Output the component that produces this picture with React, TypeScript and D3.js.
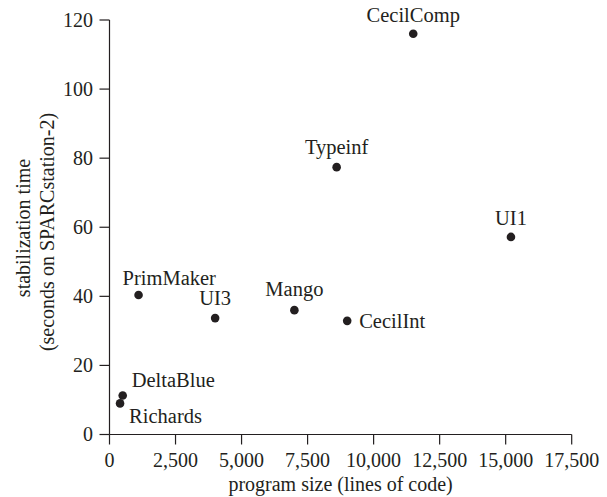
import React from "react";
import * as d3 from "d3";

const programs = ["CecilComp", "Typeinf", "UI1", "PrimMaker", "UI3", "Mango", "CecilInt", "DeltaBlue", "Richards"];
const linesOfCode = [11500, 8600, 15200, 1100, 4000, 7000, 9000, 500, 400];
const stabilizationTime = [116, 77.4, 57.2, 40.4, 33.7, 36, 32.9, 11.3, 9.0];
const xTicks = [0, 2500, 5000, 7500, 10000, 12500, 15000, 17500];
const yTicks = [0, 20, 40, 60, 80, 100, 120];

// label placement (layout, not data)
const labelLayout: Record<string, { anchor: string; dx: number; dy: number }> = {
  CecilComp: { anchor: "middle", dx: 0, dy: -12 },
  Typeinf: { anchor: "middle", dx: 0, dy: -13 },
  UI1: { anchor: "middle", dx: 0, dy: -12 },
  PrimMaker: { anchor: "start", dx: -16, dy: -10 },
  UI3: { anchor: "middle", dx: 0, dy: -13 },
  Mango: { anchor: "middle", dx: 0, dy: -14 },
  CecilInt: { anchor: "start", dx: 12, dy: 0 },
  DeltaBlue: { anchor: "start", dx: 9, dy: -8 },
  Richards: { anchor: "start", dx: 9, dy: 20 },
};

const W = 607;
const H = 497;
const ink = "#231f20";
const font = "'Liberation Serif', 'Times New Roman', serif";

export default function App() {
  const x = d3.scaleLinear().domain([0, 17500]).range([109.5, 571.7]);
  const y = d3.scaleLinear().domain([0, 120]).range([434.5, 20]);
  const fmt = d3.format(",");
  const tick = 10;

  return (
    <svg width={W} height={H} style={{ position: "absolute", left: 0, top: 0, background: "#fff" }} fontFamily={font} fill={ink}>
      <line x1={x(0)} x2={x(17500)} y1={y(0)} y2={y(0)} stroke={ink} strokeWidth={1.2} />
      <line x1={x(0)} x2={x(0)} y1={y(0)} y2={y(120)} stroke={ink} strokeWidth={1.2} />
      {xTicks.map((t) => (
        <g key={"x" + t}>
          <line x1={x(t)} x2={x(t)} y1={y(0)} y2={y(0) + tick} stroke={ink} strokeWidth={1.2} />
          <text x={x(t)} y={467} textAnchor="middle" fontSize={20}>{fmt(t)}</text>
        </g>
      ))}
      {yTicks.map((t) => (
        <g key={"y" + t}>
          <line x1={x(0) - tick} x2={x(0)} y1={y(t)} y2={y(t)} stroke={ink} strokeWidth={1.2} />
          <text x={93} y={y(t)} dy="0.33em" textAnchor="end" fontSize={20}>{t}</text>
        </g>
      ))}
      <text x={(x(0) + x(17500)) / 2} y={491} textAnchor="middle" fontSize={20}>program size (lines of code)</text>
      <text transform={`translate(30,228) rotate(-90)`} textAnchor="middle" fontSize={20}>stabilization time</text>
      <text transform={`translate(54,232) rotate(-90)`} textAnchor="middle" fontSize={20}>(seconds on SPARCstation-2)</text>
      {programs.map((p, i) => {
        const cx = x(linesOfCode[i]);
        const cy = y(stabilizationTime[i]);
        const l = labelLayout[p];
        return (
          <g key={p}>
            <circle cx={cx} cy={cy} r={4.3} fill={ink} />
            <text x={cx + l.dx} y={cy + l.dy} dy={l.dy === 0 ? "0.33em" : 0} textAnchor={l.anchor} fontSize={20.5}>{p}</text>
          </g>
        );
      })}
    </svg>
  );
}
